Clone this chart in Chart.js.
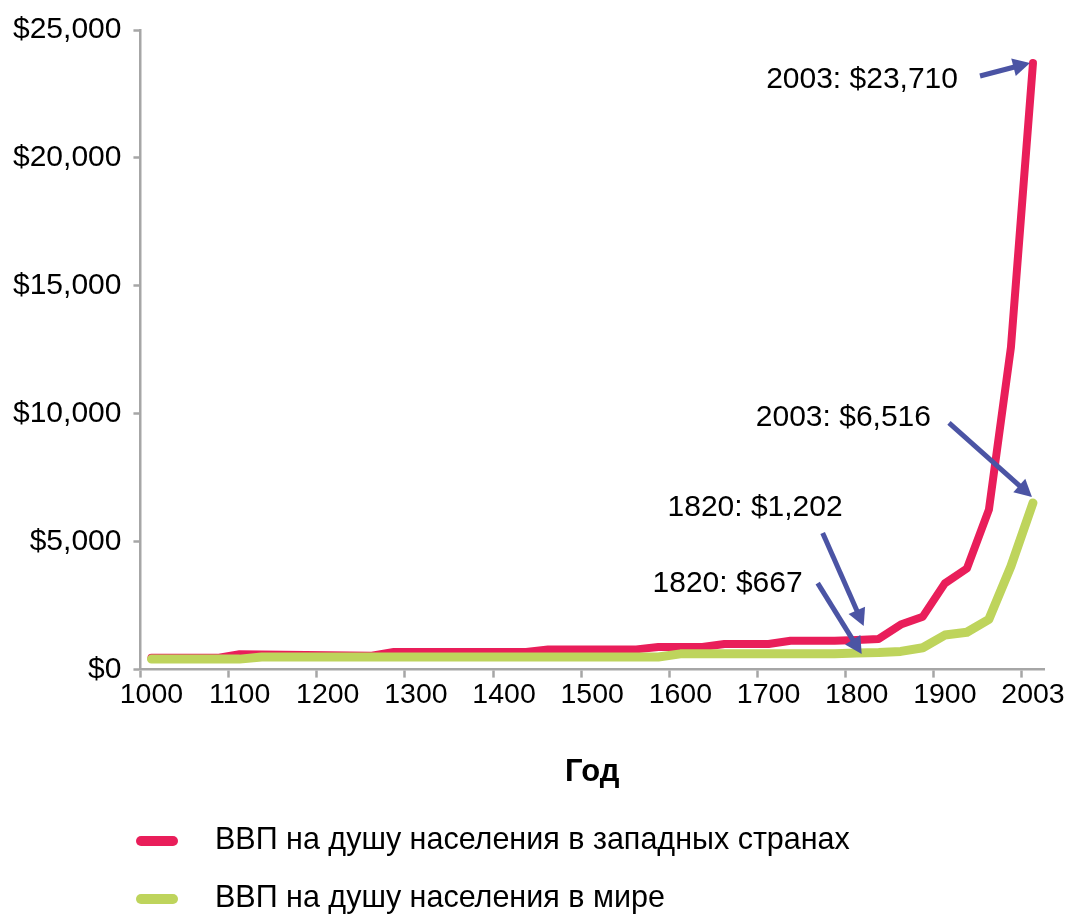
<!DOCTYPE html>
<html>
<head>
<meta charset="utf-8">
<script src="https://cdn.jsdelivr.net/npm/chart.js@4/dist/chart.umd.min.js"></script>
<style>
  html, body { margin: 0; padding: 0; background: #fff; }
  #wrap { width: 1075px; height: 915px; }
</style>
</head>
<body>
<div id="wrap"><canvas id="c" width="1075" height="915"></canvas></div>
<script>
// categories: 25-year steps, last one is 2003
const years = ['1000','1025','1050','1075','1100','1125','1150','1175','1200','1225',
  '1250','1275','1300','1325','1350','1375','1400','1425','1450','1475',
  '1500','1525','1550','1575','1600','1625','1650','1675','1700','1725',
  '1750','1775','1800','1825','1850','1875','1900','1925','1950','1975','2003'];

// GDP per capita, West
const westGdp = [460, 460, 460, 460, 600, 590, 580, 570, 560, 550,
  545, 690, 690, 690, 690, 690, 690, 690, 790, 790,
  790, 790, 790, 885, 885, 885, 1000, 1000, 1000, 1130,
  1130, 1130, 1160, 1200, 1760, 2070, 3370, 3950, 6250, 12600, 23710];

// GDP per capita, world
const worldGdp = [410, 410, 410, 410, 410, 490, 490, 490, 490, 490,
  490, 490, 490, 490, 490, 490, 490, 490, 490, 490,
  490, 490, 490, 490, 615, 615, 615, 615, 615, 615,
  615, 615, 645, 667, 710, 855, 1350, 1460, 1965, 4040, 6516];

const yTicks = [0, 5000, 10000, 15000, 20000, 25000];

const seriesNames = ['ВВП на душу населения в западных странах', 'ВВП на душу населения в мире'];
const axisTitle = 'Год';

// callouts: which dataset / point, and the text
const callouts = [
  { ds: 0, i: 40, text: '2003: $23,710' },
  { ds: 1, i: 40, text: '2003: $6,516' },
  { ds: 0, i: 32, text: '1820: $1,202' },
  { ds: 1, i: 32, text: '1820: $667' }
];
// placement of each callout relative to its point (tip, tail, text right edge / middle)
const calloutPlace = [
  { tip: [-3, 0],  tail: [-53, 13],  txt: [-75, 17] },
  { tip: [-1, -6], tail: [-84, -80], txt: [-102, -85] },
  { tip: [7, -14], tail: [-34, -107], txt: [-14, -132] },
  { tip: [5, 1],   tail: [-39, -70], txt: [-54, -69] }
];

const FONT = "'Liberation Sans', Arial, Helvetica, sans-serif";
const AXIS = '#a6a6a6';
const RED = '#e91e5a';
const GREEN = '#bed45c';
const ARROW = '#4b54a4';

Chart.defaults.font.family = FONT;
Chart.defaults.color = '#000';

function drawArrow(ctx, x1, y1, x2, y2) {
  const a = Math.atan2(y2 - y1, x2 - x1), hl = 17, hw = 9;
  const bx = x2 - hl * Math.cos(a), by = y2 - hl * Math.sin(a);
  ctx.strokeStyle = ARROW; ctx.fillStyle = ARROW;
  ctx.lineWidth = 5; ctx.lineCap = 'butt';
  ctx.beginPath(); ctx.moveTo(x1, y1); ctx.lineTo(bx + 2 * Math.cos(a), by + 2 * Math.sin(a)); ctx.stroke();
  ctx.beginPath();
  ctx.moveTo(x2, y2);
  ctx.lineTo(bx + hw * Math.sin(a), by - hw * Math.cos(a));
  ctx.lineTo(bx - hw * Math.sin(a), by + hw * Math.cos(a));
  ctx.closePath(); ctx.fill();
}

const calloutPlugin = {
  id: 'callouts',
  afterDatasetsDraw(chart) {
    const ctx = chart.ctx;
    ctx.save();
    callouts.forEach((c, k) => {
      const p = chart.getDatasetMeta(c.ds).data[c.i];
      const pl = calloutPlace[k];
      drawArrow(ctx, p.x + pl.tail[0], p.y + pl.tail[1], p.x + pl.tip[0], p.y + pl.tip[1]);
      ctx.fillStyle = '#000';
      ctx.font = '30px ' + FONT;
      ctx.textAlign = 'right';
      ctx.textBaseline = 'middle';
      ctx.fillText(c.text, p.x + pl.txt[0], p.y + pl.txt[1]);
    });
    ctx.restore();
  }
};

const legendPlugin = {
  id: 'stackedLegend',
  afterDraw(chart) {
    const ctx = chart.ctx;
    ctx.save();
    chart.data.datasets.forEach((ds, k) => {
      const y = 841 + k * 58;
      ctx.strokeStyle = ds.borderColor;
      ctx.lineWidth = 10;
      ctx.lineCap = 'round';
      ctx.beginPath(); ctx.moveTo(141, y); ctx.lineTo(173, y); ctx.stroke();
      ctx.fillStyle = '#000';
      ctx.font = '30.5px ' + FONT;
      ctx.textAlign = 'left';
      ctx.textBaseline = 'middle';
      ctx.fillText(ds.label, 215, y);
    });
    ctx.restore();
  }
};

new Chart(document.getElementById('c').getContext('2d'), {
  type: 'line',
  data: {
    labels: years,
    datasets: [
      { label: seriesNames[0], data: westGdp, borderColor: RED, borderWidth: 8, order: 1 },
      { label: seriesNames[1], data: worldGdp, borderColor: GREEN, borderWidth: 9, order: 0 }
    ]
  },
  options: {
    responsive: false,
    animation: false,
    events: [],
    clip: false,
    elements: {
      point: { radius: 0 },
      line: { tension: 0, borderCapStyle: 'round', borderJoinStyle: 'round', fill: false }
    },
    layout: { padding: { top: 22, left: 1, right: 31, bottom: 124 } },
    plugins: { legend: { display: false }, tooltip: { enabled: false } },
    scales: {
      x: {
        type: 'category',
        offset: true,
        grid: {
          offset: true, drawOnChartArea: false, tickLength: 8, tickWidth: 2.5,
          tickColor: c => (c.index % 4 === 0 ? AXIS : 'rgba(0,0,0,0)')
        },
        border: { color: AXIS, width: 2.5 },
        ticks: {
          autoSkip: false, maxRotation: 0, padding: 0, font: { size: 28.5 },
          callback(v, i) { return i % 4 === 0 ? this.getLabelForValue(v) : ''; }
        },
        title: { display: true, text: axisTitle, font: { size: 31, weight: 'bold' }, padding: { top: 42, bottom: 0 } }
      },
      y: {
        min: yTicks[0], max: yTicks[yTicks.length - 1],
        afterBuildTicks: s => { s.ticks = yTicks.map(v => ({ value: v })); },
        grid: { drawOnChartArea: false, tickLength: 7, tickWidth: 2.5, tickColor: AXIS },
        border: { color: AXIS, width: 2.5 },
        ticks: { padding: 12, font: { size: 30 }, callback: v => '$' + v.toLocaleString('en-US') }
      }
    }
  },
  plugins: [calloutPlugin, legendPlugin]
});
</script>
</body>
</html>
